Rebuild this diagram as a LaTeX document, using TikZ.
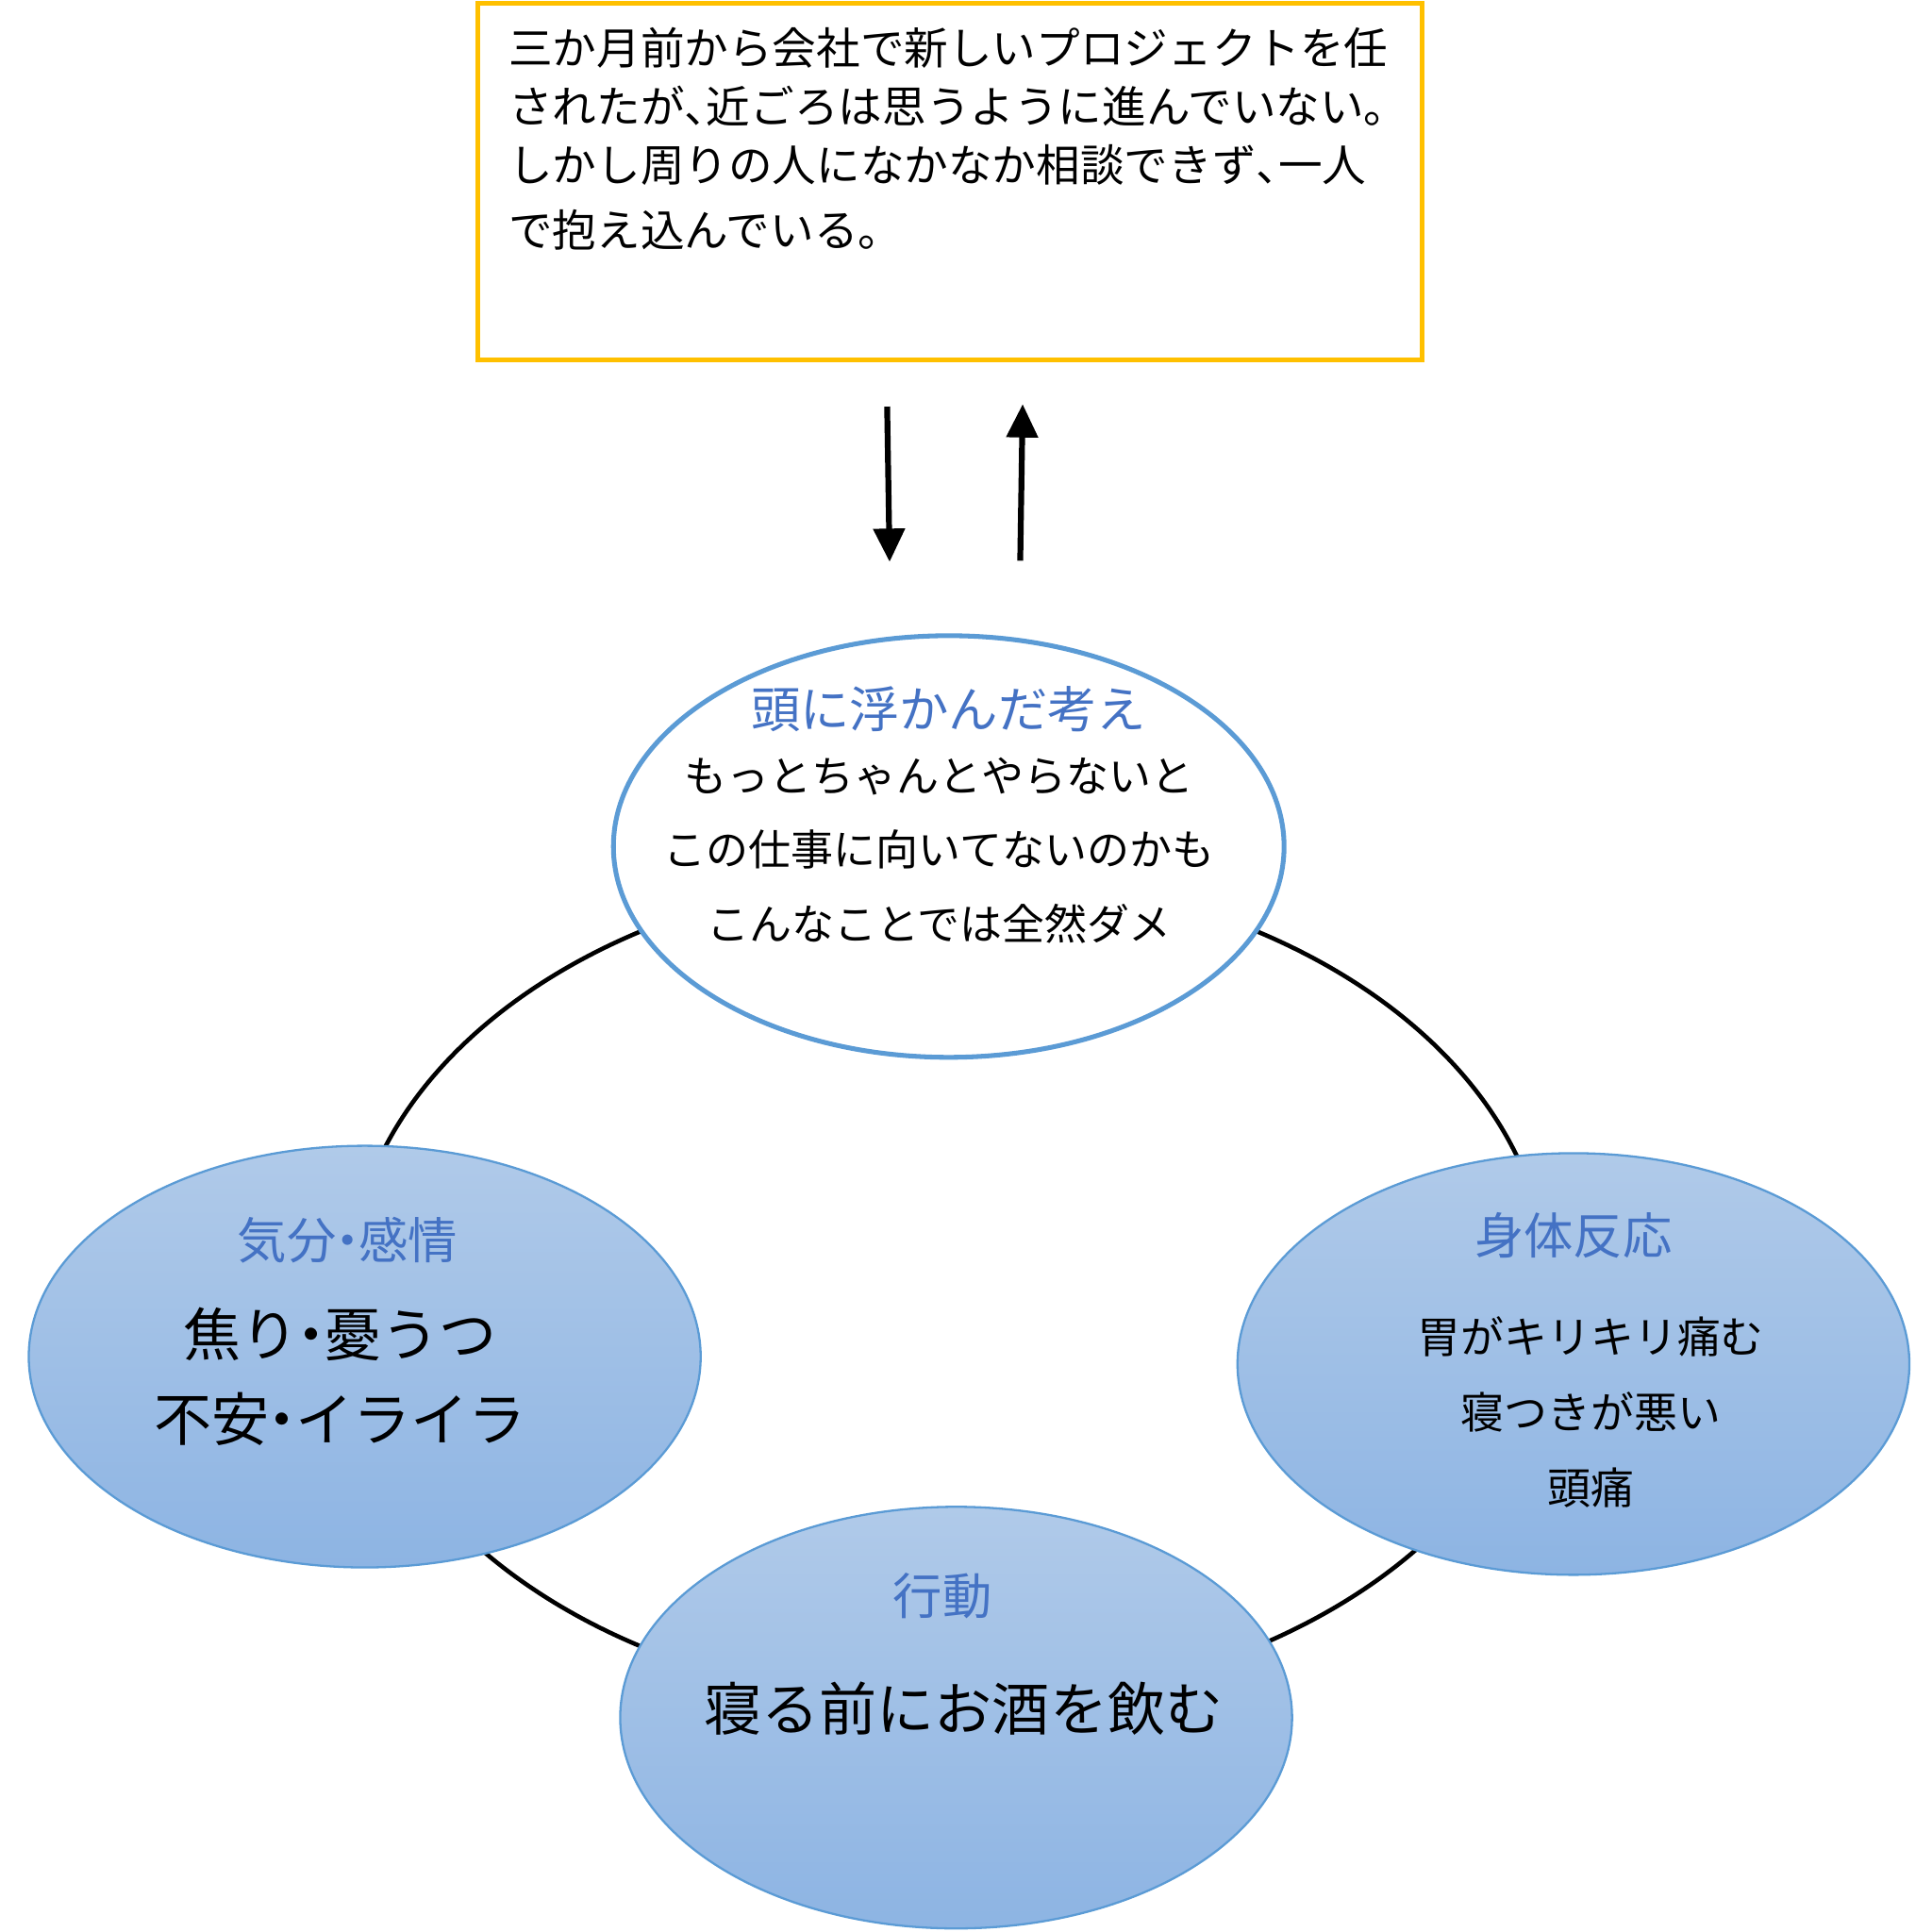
\documentclass[tikz,border=0pt]{standalone}
\usepackage{fontspec}
\setmainfont{Noto Sans CJK JP}
\usetikzlibrary{shapes.geometric,arrows.meta,positioning,calc}
\definecolor{boxorange}{RGB}{255,192,0}
\definecolor{bubbleline}{RGB}{91,155,213}
\definecolor{headblue}{RGB}{68,114,196}
\definecolor{bubbletop}{RGB}{176,202,233}
\definecolor{bubblebottom}{RGB}{141,180,227}
\newcommand{\nardot}{\makebox[0.45em][c]{・}}

\begin{document}
\begin{tikzpicture}[x=0.01cm, y=-0.01cm,
    bubble/.style={ellipse, draw=bubbleline, line width=0.5pt, top color=bubbletop, bottom color=bubblebottom, minimum width=5.45cm, minimum height=3.42cm},
    heading/.style={font=\fontsize{11.4pt}{14pt}\selectfont, text=headblue, inner sep=0pt},
    flow/.style={line width=1.35pt, -{Triangle[width=0.25cm,length=0.27cm]}}]
				\useasboundingbox (0,0) rectangle (1568,1568);
				
				% situation box
				\node[rectangle, draw=boxorange, line width=1.1pt, minimum width=7.66cm, minimum height=2.89cm, inner xsep=0pt, inner ysep=0.19cm, font=\fontsize{10.15pt}{13.6pt}\selectfont] (situation) at (771,147.5) {\parbox[c][2.51cm][t]{7.16cm}{三か月前から会社で新しいプロジェクトを任\\されたが\makebox[0.5em][l]{、}近ごろは思うように進んでいない。\\しかし周りの人になかなか相談できず\makebox[0.5em][l]{、}一人\\[0.05cm]で抱え込んでいる。}};
				
				\coordinate (down1) at (720,330);
				\coordinate (down2) at (722,456);
				\coordinate (up1) at (828,455);
				\coordinate (up2) at (830,328);
				\draw[flow] (down1) -- (down2);
				\draw[flow] (up1) -- (up2);
				
				% cycle
				\coordinate (cycle) at (770,1046);
				\draw[line width=1pt] (cycle) ellipse (4.86cm and 3.38cm);
				
				\node[ellipse, draw=bubbleline, line width=1.1pt, fill=white, minimum width=5.44cm, minimum height=3.42cm] (thought) at (770,687) {};
				\node[bubble] (mood) at (296,1101) {};
				\node[bubble] (body) at (1277,1107) {};
				\node[bubble] (action) at (776,1394) {};
				
				\node[heading, below=0.42cm of thought.north] (thoughthead) {頭に浮かんだ考え};
				\node[heading, below=0.58cm of mood.north, xshift=-0.14cm] (moodhead) {気分\nardot 感情};
				\node[heading, below=0.48cm of body.north] (bodyhead) {身体反応};
				\node[heading, below=0.54cm of action.north, xshift=-0.11cm] (actionhead) {行動};
				
				\node[align=center, inner sep=0pt, font=\fontsize{9.8pt}{17.1pt}\selectfont] (thoughttxt) at (762,690) {もっとちゃんとやらないと\\この仕事に向いてないのかも\\こんなことでは全然ダメ};
				\node[align=center, inner sep=0pt, font=\fontsize{13.3pt}{19.6pt}\selectfont] (moodtxt) at (276,1117) {焦り\nardot 憂うつ\\不安\nardot イライラ};
				\node[align=center, inner sep=0pt, font=\fontsize{10pt}{17.4pt}\selectfont] (bodytxt) at (1291,1146) {胃がキリキリ痛む\\寝つきが悪い\\頭痛};
				\node[inner sep=0pt, font=\fontsize{13.3pt}{16pt}\selectfont] (actiontxt) at (782,1387) {寝る前にお酒を飲む};
			\end{tikzpicture}
\end{document}
